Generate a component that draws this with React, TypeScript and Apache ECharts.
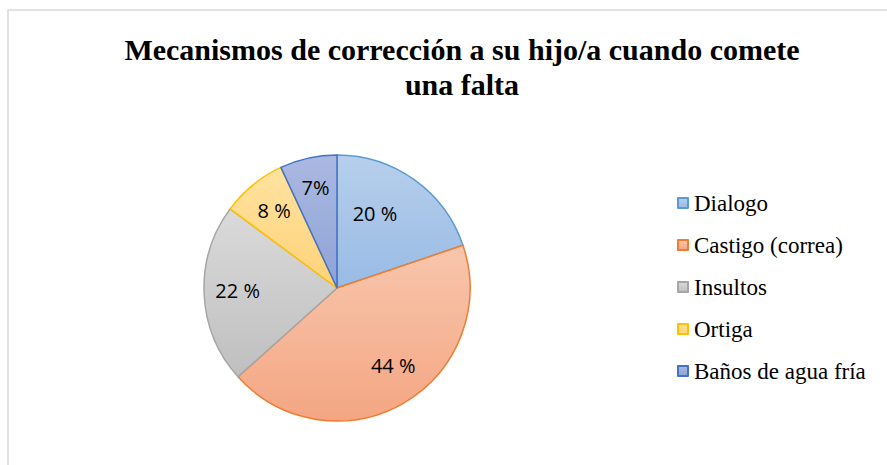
import React, { useEffect, useRef } from "react";
import * as echarts from "echarts";

const titleLines = ["Mecanismos de corrección a su hijo/a cuando comete", "una falta"];
const categories = ["Dialogo", "Castigo (correa)", "Insultos", "Ortiga", "Baños de agua fría"];
const values = [20, 44, 22, 8, 7];
const labelTexts = ["20 %", "44 %", "22 %", "8 %", "7%"];
const fillTop = ["#b7cfeb", "#f8c6ad", "#dadada", "#ffe3a0", "#abb9e1"];
const fillBottom = ["#98bbe5", "#f4a682", "#bfbfbf", "#ffd279", "#8da3d6"];
const borderColors = ["#5b9bd5", "#ed7d31", "#a5a5a5", "#ffc000", "#4472c4"];
const labelNudges = [[-20, 6], [6, -8], [0, -2], [0, 0], [0, -3]];

export default function App() {
  const ref = useRef<HTMLDivElement>(null);
  useEffect(() => {
    if (!ref.current) return;
    const chart = echarts.init(ref.current, undefined, { renderer: "svg" });
    const mainData = categories.map((name, i) => ({
      name,
      value: values[i],
      itemStyle: {
        color: new echarts.graphic.LinearGradient(0, 0, 0, 1, [
          { offset: 0, color: fillTop[i] },
          { offset: 1, color: fillBottom[i] },
        ]),
        borderColor: borderColors[i],
        borderWidth: 1.5,
      },
    }));
    const labelData = categories.map((name, i) => ({
      name,
      value: values[i],
      label: { formatter: labelTexts[i] },
    }));
    chart.setOption({
      animation: false,
      backgroundColor: "#ffffff",
      graphic: [
        {
          type: "rect",
          shape: { x: 8, y: 10, width: 900, height: 500 },
          style: { fill: "none", stroke: "#d9d9d9", lineWidth: 1.5 },
          silent: true,
        },
      ],
      title: {
        text: titleLines.join("\n"),
        left: 457,
        textAlign: "center",
        top: 27,
        textStyle: {
          fontFamily: "Liberation Serif",
          fontWeight: "bold",
          fontSize: 30,
          lineHeight: 35,
          color: "#000000",
        },
      },
      legend: {
        orient: "vertical",
        left: 672,
        top: 186,
        itemWidth: 10,
        itemHeight: 10,
        itemGap: 18,
        icon: "rect",
        selectedMode: false,
        data: categories,
        textStyle: {
          fontFamily: "Liberation Serif",
          fontSize: 23,
          lineHeight: 24,
          color: "#000000",
          padding: [0, 0, 0, 1],
        },
      },
      series: [
        {
          type: "pie",
          center: [337, 288],
          radius: [0, 133],
          startAngle: 90,
          clockwise: true,
          label: { show: false },
          labelLine: { show: false },
          emphasis: { disabled: true },
          data: mainData,
        },
        {
          type: "pie",
          center: [337, 288],
          radius: [60, 133],
          startAngle: 90,
          clockwise: true,
          silent: true,
          itemStyle: { color: "rgba(0,0,0,0)", borderWidth: 0 },
          label: {
            show: true,
            position: "inside",
            fontFamily: "Open Sans",
            fontSize: 20,
            color: "#000000",
          },
          labelLine: { show: false },
          labelLayout: (p: any) => ({ dx: labelNudges[p.dataIndex][0], dy: labelNudges[p.dataIndex][1] }),
          emphasis: { disabled: true },
          data: labelData,
        },
      ],
    });
    return () => chart.dispose();
  }, []);
  return (
    <div
      ref={ref}
      style={{ position: "fixed", left: 0, top: 0, width: 887, height: 465 }}
    />
  );
}
